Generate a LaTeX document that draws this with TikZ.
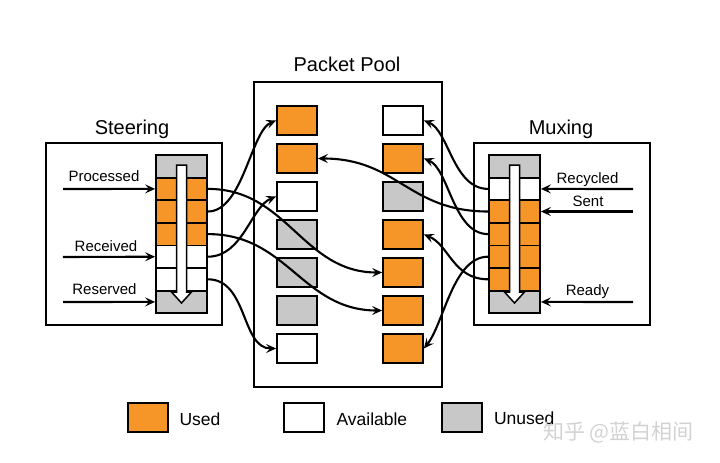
\documentclass[tikz,border=0pt]{standalone}
\usepackage{fontspec}
\setmainfont{Liberation Sans}
\newfontfamily\cjkfont{Noto Sans CJK SC}
\usetikzlibrary{arrows.meta}

\definecolor{usedorange}{RGB}{247,150,40}
\definecolor{unusedgray}{RGB}{200,200,200}

\tikzset{
  frame/.style={draw, line width=1.5pt, inner sep=0pt},
  cell/.style={draw, line width=1.8pt, minimum width=40pt, minimum height=28.5pt, inner sep=0pt},
  slot/.style={draw, line width=1.8pt, minimum width=51pt, minimum height=22.6pt, inner sep=0pt},
  link/.style={line width=2.1pt, -{Stealth[length=10pt,width=9pt,inset=4pt]}},
  title/.style={font=\fontsize{20}{24}\selectfont, anchor=base},
  lbl/.style={font=\fontsize{15}{18}\selectfont, anchor=base},
  key/.style={font=\fontsize{17.5}{21}\selectfont, anchor=base west},
}

\begin{document}
\begin{tikzpicture}[x=1pt,y=-1pt]
  \useasboundingbox (0,0) rectangle (720,463);

  % three frames and their titles
  \draw [frame] (46,143) rectangle (222,325);
  \draw [frame] (254,82) rectangle (442,387);
  \draw [frame] (474,143) rectangle (650,325);
  \node [title] (steertitle) at (132,134) {Steering};
  \node [title] (pooltitle) at (347,71.5) {Packet Pool};
  \node [title] (muxtitle) at (561,134) {Muxing};

  % packet pool, two columns
  \foreach \c [count=\i] in {usedorange,usedorange,white,unusedgray,unusedgray,unusedgray,white}
    \node [cell, fill=\c] (pl\i) at (297,{82.5+38*\i}) {};
  \foreach \c [count=\i] in {white,usedorange,unusedgray,usedorange,usedorange,usedorange,usedorange}
    \node [cell, fill=\c] (pr\i) at (403,{82.5+38*\i}) {};

  % steering and muxing queues
  \foreach \c [count=\i] in {unusedgray,usedorange,usedorange,usedorange,white,white,unusedgray}
    \node [slot, fill=\c] (s\i) at (181.5,{143.7+22.6*\i}) {};
  \foreach \c [count=\i] in {unusedgray,white,usedorange,usedorange,usedorange,usedorange,unusedgray}
    \node [slot, fill=\c] (m\i) at (514.5,{143.7+22.6*\i}) {};

  % white arrows down the queues
  \foreach \x in {181.5,514.5}
    \draw [line width=1.5pt, fill=white] ({\x-5},165) -- ({\x+5},165) -- ({\x+5},292)
      -- ({\x+10},292) -- (\x,303) -- ({\x-10},292) -- ({\x-5},292) -- cycle;

  % incoming pointers
  \coordinate (inproc) at (63,189);
  \coordinate (inrecv) at (63,257);
  \coordinate (inres) at (63,302);
  \coordinate (inrecy) at (633,189);
  \coordinate (insent) at (633,211.5);
  \coordinate (inready) at (633,302);
  \draw [link] (inproc) -- (s2.west);
  \draw [link] (inrecv) -- (s5.west);
  \draw [link] (inres) -- (s7.west);
  \draw [link] (inrecy) -- (m2.east);
  \draw [link] (insent) -- (m3.east);
  \draw [link] (inready) -- (m7.east);
  \node [lbl] (lproc) at (104,181) {Processed};
  \node [lbl] (lrecv) at (106,251) {Received};
  \node [lbl] (lres) at (104.5,294) {Reserved};
  \node [lbl] (lrecy) at (587.5,183) {Recycled};
  \node [lbl] (lsent) at (588,206) {Sent};
  \node [lbl] (lready) at (587.5,295) {Ready};

  % steering -> pool
  \draw [link] (s2.east) .. controls +(80,0) and +(-80,0) .. (pr5.west);
  \draw [link] (s3.east) .. controls +(35,0) and +(-25,10) .. (pl1.west);
  \draw [link] (s4.east) .. controls +(80,0) and +(-80,0) .. (pr6.west);
  \draw [link] (s5.east) .. controls +(35,0) and +(-25,10) .. (pl3.west);
  \draw [link] (s6.east) .. controls +(40,0) and +(-35,0) .. (pl7.west);

  % muxing -> pool
  \draw [link] (m2.west) .. controls +(-35,0) and +(25,10) .. (pr1.east);
  \draw [link] (m3.west) .. controls +(-80,0) and +(80,0) .. (pl2.east);
  \draw [link] (m4.west) .. controls +(-35,0) and +(25,10) .. (pr2.east);
  \draw [link] (m5.west) .. controls +(-35,0) and +(20,-25) .. (pr7.east);
  \draw [link] (m6.west) .. controls +(-35,0) and +(25,10) .. (pr4.east);

  % legend
  \node [cell, fill=usedorange] (kused) at (148,417.5) {};
  \node [cell, fill=white] (kavail) at (304,417.5) {};
  \node [cell, fill=unusedgray] (kunused) at (462,417.5) {};
  \node [key] (tused) at (176,425) {Used};
  \node [key] (tavail) at (333,425) {Available};
  \node [key] (tunused) at (490.5,424) {Unused};

  \node [font=\cjkfont\fontsize{21}{24}\selectfont, text=gray!35, anchor=west, inner sep=0pt]
    (mark) at (543,432) {知乎 @蓝白相间};
\end{tikzpicture}
\end{document}
